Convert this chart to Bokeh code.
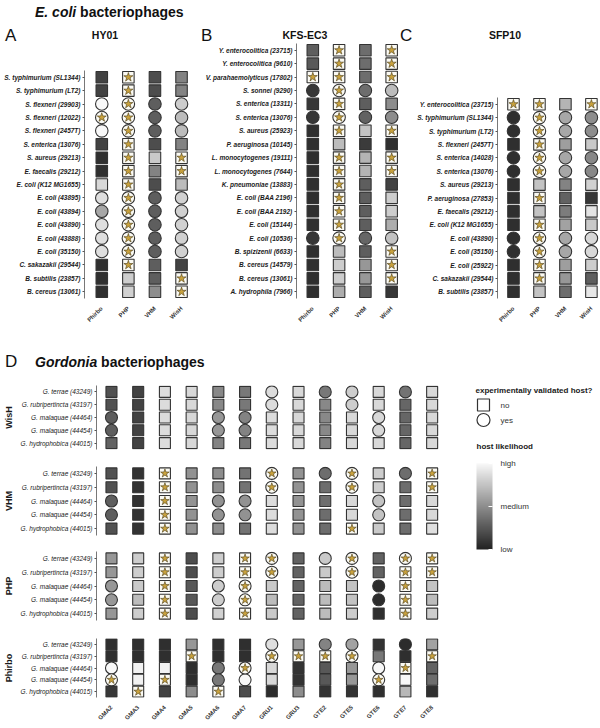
import math
from bokeh.plotting import figure
from bokeh.models import (ColumnDataSource, Range1d, FactorRange, FixedTicker,
                          ColorBar, LinearColorMapper, Div)
from bokeh.layouts import column, row
from bokeh.embed import file_html
from bokeh.resources import INLINE

S = "*"  # top-ranked host prediction (drawn as a star)

TOOLS = ["Phirbo", "PHP", "VHM", "WisH"]

# ---------------- Panel A: HY01 ----------------
HY01_STRAINS = ["S. typhimurium (SL1344)", "S. typhimurium (LT2)", "S. flexneri (29903)",
                "S. flexneri (12022)", "S. flexneri (2457T)", "S. enterica (13076)",
                "S. aureus (29213)", "E. faecalis (29212)", "E. coli (K12 MG1655)",
                "E. coli (43895)", "E. coli (43894)", "E. coli (43890)", "E. coli (43888)",
                "E. coli (35150)", "C. sakazakii (29544)", "B. subtilis (23857)",
                "B. cereus (13061)"]
HY01_HOST = [0, 0, 1, 1, 1, 0, 0, 0, 0, 1, 1, 1, 1, 1, 0, 0, 0]
HY01_PHIRBO = [0.15, 0.15, 1.0, S, 1.0, 0.15, 0.06, 0.06, 0.85, 0.88, 0.62, 0.88, 0.88, 0.88, 0.06, 0.06, 0.06]
HY01_PHP = [S, S, S, S, S, S, S, S, S, S, S, S, S, S, S, 0.8, 0.82]
HY01_VHM = [0.2, 0.2, 0.28, 0.28, 0.28, 0.2, 0.78, 0.45, 0.2, 0.28, 0.28, 0.28, 0.28, 0.28, 0.28, 0.28, 0.5]
HY01_WISH = [0.45, 0.45, 0.8, 0.72, 0.72, 0.45, S, S, 0.72, 0.82, 0.82, 0.82, 0.82, 0.82, 0.15, S, S]

# ---------------- Panel B: KFS-EC3 ----------------
KFS_STRAINS = ["Y. enterocolitica (23715)", "Y. enterocolitica (9610)",
               "V. parahaemolyticus (17802)", "S. sonnei (9290)", "S. enterica (13311)",
               "S. enterica (13076)", "S. aureus (25923)", "P. aeruginosa (10145)",
               "L. monocytogenes (19111)", "L. monocytogenes (7644)", "K. pneumoniae (13883)",
               "E. coli (BAA 2196)", "E. coli (BAA 2192)", "E. coli (15144)", "E. coli (10536)",
               "B. spizizenii (6633)", "B. cereus (14579)", "B. cereus (13061)",
               "A. hydrophila (7966)"]
KFS_HOST = [0, 0, 0, 1, 0, 1, 0, 0, 0, 0, 0, 0, 0, 0, 1, 0, 0, 0, 0]
KFS_PHIRBO = [0.28, 0.26, S, 0.1, 0.1, 0.1, 0.06, 0.06, 0.06, 0.06, 0.06, 0.06, 0.06, 0.06, 0.1, 0.06, 0.06, 0.06, 0.06]
KFS_PHP = [S, S, S, S, S, S, S, 0.72, S, S, S, S, S, S, S, 0.72, 0.8, 0.8, 0.65]
KFS_VHM = [0.35, 0.35, 0.35, 0.35, 0.28, 0.3, 0.75, 0.12, 0.68, 0.68, 0.28, 0.28, 0.28, 0.28, 0.32, 0.28, 0.55, 0.55, 0.28]
KFS_WISH = [S, S, S, 0.72, 0.5, 0.5, S, 0.06, S, S, 0.15, 0.8, 0.8, 0.65, 0.75, S, S, S, 0.1]

# ---------------- Panel C: SFP10 ----------------
SFP_STRAINS = ["Y. enterocolitica (23715)", "S. typhimurium (SL1344)", "S. typhimurium (LT2)",
               "S. flexneri (2457T)", "S. enterica (14028)", "S. enterica (13076)",
               "S. aureus (29213)", "P. aeruginosa (27853)", "E. faecalis (29212)",
               "E. coli (K12 MG1655)", "E. coli (43890)", "E. coli (35150)",
               "E. coli (25922)", "C. sakazakii (29544)", "B. subtilis (23857)"]
SFP_HOST = [0, 1, 1, 0, 1, 1, 0, 0, 0, 0, 1, 1, 0, 0, 0]
SFP_PHIRBO = [S, 0.06, 0.06, 0.06, 0.06, 0.06, 0.06, 0.06, 0.06, 0.06, 0.06, 0.06, 0.06, 0.06, 0.06]
SFP_PHP = [S, S, S, S, S, S, 0.75, S, 0.75, S, S, S, S, S, 0.75]
SFP_VHM = [0.68, 0.62, 0.62, 0.58, 0.62, 0.62, 0.45, 0.3, 0.42, 0.6, 0.62, 0.62, 0.58, 0.55, 0.35]
SFP_WISH = [S, 0.5, 0.5, 0.78, 0.48, 0.48, 0.82, 0.1, 0.9, 0.78, 0.85, 0.85, 0.8, 0.28, 0.92]

# ---------------- Panel D: Gordonia ----------------
G_PHAGES = ["GMA2", "GMA3", "GMA4", "GMA5", "GMA6", "GMA7", "GRU1", "GRU3",
            "GTE2", "GTE5", "GTE6", "GTE7", "GTE8"]
G_STRAINS = ["G. terrae (43249)", "G. rubripertincta (43197)", "G. malaquae (44464)",
             "G. malaquae (44454)", "G. hydrophobica (44015)"]
# validated host (1 = circle) per phage, per strain
G_HOST = [[0, 0, 1, 1, 0], [0, 0, 0, 0, 0], [0, 0, 0, 0, 0], [0, 0, 0, 0, 0],
          [0, 0, 1, 1, 0], [0, 0, 1, 1, 0], [1, 1, 0, 0, 0], [0, 0, 0, 0, 0],
          [1, 0, 0, 0, 0], [1, 1, 0, 0, 0], [0, 0, 1, 1, 0], [1, 0, 0, 0, 0],
          [0, 0, 0, 0, 0]]
G_WISH = [[0.22, 0.22, 0.28, 0.28, 0.3], [0.15, 0.15, 0.15, 0.15, 0.15],
          [0.87, 0.87, 0.87, 0.87, 0.87], [0.85, 0.85, 0.85, 0.85, 0.85],
          [0.48, 0.48, 0.55, 0.55, 0.45], [0.4, 0.4, 0.45, 0.45, 0.4],
          [0.87, 0.87, 0.87, 0.87, 0.87], [0.85, 0.85, 0.85, 0.85, 0.85],
          [0.4, 0.48, 0.48, 0.48, 0.45], [0.8, 0.8, 0.85, 0.85, 0.85],
          [0.85, 0.85, 0.85, 0.85, 0.85], [0.38, 0.32, 0.32, 0.32, 0.32],
          [0.85, 0.85, 0.85, 0.85, 0.85]]
G_VHM = [[0.22, 0.22, 0.28, 0.28, 0.22], [0.08, 0.08, 0.08, 0.08, 0.08],
         [S, S, S, S, S], [0.52, 0.52, 0.52, 0.52, 0.52],
         [0.5, 0.5, 0.52, 0.52, 0.5], [0.38, 0.38, 0.52, 0.52, 0.38],
         [S, S, 0.87, 0.87, 0.87], [0.52, 0.52, 0.52, 0.52, 0.52],
         [0.35, 0.35, 0.35, 0.35, 0.35], [S, S, 0.85, 0.85, S],
         [0.8, 0.8, 0.75, 0.75, 0.78], [0.35, 0.35, 0.35, 0.35, 0.35],
         [S, S, 0.85, 0.85, 0.88]]
G_PHP = [[0.55, 0.55, 0.55, 0.55, 0.55], [0.8, 0.8, 0.78, 0.72, 0.8],
         [S, S, S, S, S], [0.2, 0.2, 0.25, 0.25, 0.2],
         [0.8, 0.8, 0.8, 0.8, 0.82], [S, S, S, S, S],
         [S, S, 0.78, 0.72, 0.78], [0.3, 0.3, 0.3, 0.3, 0.3],
         [0.78, 0.78, 0.72, 0.72, 0.72], [S, S, 0.75, 0.75, 0.8],
         [0.3, 0.3, 0.05, 0.05, 0.06], [S, S, S, S, S],
         [S, S, 0.75, 0.72, 0.8]]
G_PHIRBO = [[0.06, 0.06, 1.0, S, 0.1], [0.06, 0.06, 0.97, 0.97, S],
            [0.06, 0.06, 0.97, S, 0.15], [0.55, S, 0.06, 0.06, 0.5],
            [0.06, 0.06, 0.4, 0.4, S], [0.06, 0.06, S, 1.0, 0.2],
            [0.88, S, 0.85, 0.85, 0.05], [0.55, S, 0.08, 0.08, 0.5],
            [0.45, S, 0.25, 0.25, 0.08], [0.6, S, 0.55, 0.55, 0.08],
            [0.08, 0.4, 1.0, S, 0.06], [0.05, 0.06, S, 1.0, 0.7],
            [0.6, S, 0.3, 0.35, 0.06]]

LIKELIHOOD_TICKS = [0, 0.5, 1]
LIKELIHOOD_LABELS = ["low", "medium", "high"]

# ---------------- styling ----------------
FONT = "Liberation Sans"
OUTLINE = "#333333"
STAR_FILL = "#c9a23e"
STAR_LINE = "#4a3c18"
STAR_BG = "#fbfaf3"
GREYS = ["#%02x%02x%02x" % (g, g, g)
         for g in (int(round(34 + (248 - 34) * k / 255)) for k in range(256))]
MAPPER = LinearColorMapper(palette=GREYS, low=0, high=1)


def add_cells(p, ycats, cols, hostcols, sq=11.5, ci=12.5, st=9.5):
    plain = dict(x=[], y=[], v=[], marker=[], size=[])
    top = dict(x=[], y=[], marker=[], size=[])
    for j, col in enumerate(cols):
        for i, val in enumerate(col):
            h = hostcols[j][i]
            d = top if val == S else plain
            d["x"].append(j)
            d["y"].append(ycats[i])
            d["marker"].append("circle" if h else "square")
            d["size"].append(ci if h else sq)
            if val != S:
                d["v"].append(val)
    p.scatter("x", "y", source=ColumnDataSource(plain), marker="marker", size="size",
              fill_color={"field": "v", "transform": MAPPER},
              line_color=OUTLINE, line_width=1.1)
    src = ColumnDataSource(top)
    p.scatter("x", "y", source=src, marker="marker", size="size", fill_color=STAR_BG,
              line_color=OUTLINE, line_width=1.1)
    p.scatter("x", "y", source=src, marker="star", size=st, fill_color=STAR_FILL,
              line_color=STAR_LINE, line_width=0.6)


def panel(width, height, xr, ycats, xlabels, left, right, top, bottom, show_x,
          label_style="bold italic", ylabel=None):
    p = figure(width=width, height=height, x_range=xr,
               y_range=FactorRange(factors=list(reversed(ycats))),
               output_backend="svg", toolbar_location=None,
               min_border_left=left, min_border_right=right,
               min_border_top=top, min_border_bottom=bottom,
               x_axis_location="below" if show_x else None)
    p.frame_align = False
    p.title.visible = False
    p.xgrid.visible = False
    p.ygrid.visible = False
    p.outline_line_color = None
    p.background_fill_color = "white"
    p.border_fill_color = "white"
    ya = p.yaxis[0]
    ya.axis_line_color = "#555555"
    ya.axis_line_width = 0.8
    ya.major_tick_line_color = "#555555"
    ya.major_tick_out = 2
    ya.major_tick_in = 0
    ya.major_label_standoff = 2
    ya.major_label_text_font = FONT
    ya.major_label_text_font_size = "6.5px"
    ya.major_label_text_font_style = label_style
    ya.major_label_text_color = "#1a1a1a"
    if ylabel:
        ya.axis_label = ylabel
        ya.axis_label_text_font = FONT
        ya.axis_label_text_font_size = "9px"
        ya.axis_label_text_font_style = "bold"
        ya.axis_label_text_color = "#1a1a1a"
        ya.axis_label_standoff = 4
    if show_x:
        xa = p.xaxis[0]
        xa.ticker = FixedTicker(ticks=list(range(len(xlabels))))
        xa.major_label_overrides = {i: t for i, t in enumerate(xlabels)}
        xa.major_label_orientation = math.pi / 4
        xa.axis_line_color = None
        xa.major_tick_line_color = None
        xa.minor_tick_line_color = None
        xa.major_label_standoff = 3
        xa.major_label_text_font = FONT
        xa.major_label_text_font_size = "6px"
        xa.major_label_text_font_style = "bold"
        xa.major_label_text_color = "#333333"
    return p


def header(height, items):
    spans = ""
    for (t, x, y, fs, fw, center) in items:
        tr = "transform:translateX(-50%);" if center else ""
        spans += (f'<span style="position:absolute;left:{x}px;top:{y}px;font-size:{fs}px;'
                  f'font-weight:{fw};line-height:1;white-space:nowrap;{tr}">{t}</span>')
    html = (f'<div style="position:relative;width:600px;height:{height}px;'
            f"font-family:'Liberation Sans',Arial,sans-serif;color:#111;\">{spans}</div>")
    return Div(text=html, width=600, height=height, margin=(0, 0, 0, 0))


# ---------------- top row ----------------
TOP_H = 286
pa = panel(200, TOP_H, Range1d(-0.65, 3.45), HY01_STRAINS, TOOLS, 84, 7, 28, 27, True)
add_cells(pa, HY01_STRAINS, [HY01_PHIRBO, HY01_PHP, HY01_VHM, HY01_WISH], [HY01_HOST] * 4)

pb = panel(208, TOP_H, Range1d(-0.62, 3.45), KFS_STRAINS, TOOLS, 96, 5, 1, 27, True)
add_cells(pb, KFS_STRAINS, [KFS_PHIRBO, KFS_PHP, KFS_VHM, KFS_WISH], [KFS_HOST] * 4)

pc = panel(192, TOP_H, Range1d(-0.615, 3.35), SFP_STRAINS, TOOLS, 89, 0, 55, 27, True)
add_cells(pc, SFP_STRAINS, [SFP_PHIRBO, SFP_PHP, SFP_VHM, SFP_WISH], [SFP_HOST] * 4)

head1 = header(42, [
    ("<i>E. coli</i> bacteriophages", 35, 5, 14, "bold", False),
    ("A", 5, 27, 17, "normal", False),
    ("HY01", 105, 30, 10.5, "bold", True),
    ("B", 201, 27, 17, "normal", False),
    ("KFS-EC3", 305, 30, 10.5, "bold", True),
    ("C", 400, 27, 17, "normal", False),
    ("SFP10", 505, 30, 10.5, "bold", True),
])

head2 = header(49, [
    ("D", 5, 25, 17, "normal", False),
    ("<i>Gordonia</i> bacteriophages", 35, 27, 14, "bold", False),
])

# ---------------- panel D ----------------
DXR = Range1d(-0.56, 12.5)
d_specs = [("WisH", G_WISH, 81, 8, 9, False),
           ("VHM", G_VHM, 85, 8, 8, False),
           ("PHP", G_PHP, 86, 8, 9, False),
           ("Phirbo", G_PHIRBO, 97, 9, 20, True)]
d_figs = []
for name, data, h, t, b, sx in d_specs:
    p = panel(470, h, DXR, G_STRAINS, G_PHAGES, 95, 25, t, b, sx,
              label_style="italic", ylabel=name)
    add_cells(p, G_STRAINS, data, G_HOST, sq=11, ci=12, st=9)
    d_figs.append(p)

# legend: validated host
leg1 = figure(width=130, height=55, x_range=Range1d(-0.5, 0.5),
              y_range=FactorRange(factors=["yes", "no"]),
              output_backend="svg", toolbar_location=None,
              min_border_left=5, min_border_right=109, min_border_top=20, min_border_bottom=5,
              x_axis_location=None, y_axis_location="right",
              title="experimentally validated host?")
leg1.frame_align = False
leg1.title.text_font = FONT
leg1.title.text_font_size = "8px"
leg1.title.text_font_style = "bold"
leg1.title.text_color = "#1a1a1a"
leg1.title.standoff = 5
leg1.title.offset = 0
leg1.xgrid.visible = False
leg1.ygrid.visible = False
leg1.outline_line_color = None
leg1.yaxis.axis_line_color = None
leg1.yaxis.major_tick_line_color = None
leg1.yaxis.major_label_standoff = 3
leg1.yaxis.major_label_text_font = FONT
leg1.yaxis.major_label_text_font_size = "8px"
leg1.yaxis.major_label_text_color = "#333333"
leg1.scatter(x=[0, 0], y=["no", "yes"], marker=["square", "circle"], size=[12, 13],
             fill_color="white", line_color=OUTLINE, line_width=1.2)

# legend: colour bar
leg2 = figure(width=130, height=140, x_range=Range1d(0, 1), y_range=Range1d(0, 1),
              output_backend="svg", toolbar_location=None,
              min_border_left=6, min_border_right=0, min_border_top=20, min_border_bottom=0,
              x_axis_location=None, y_axis_location=None, title="host likelihood")
leg2.frame_align = False
leg2.title.text_font = FONT
leg2.title.text_font_size = "8px"
leg2.title.text_font_style = "bold"
leg2.title.text_color = "#1a1a1a"
leg2.title.standoff = 3
leg2.title.offset = 0
leg2.xgrid.visible = False
leg2.ygrid.visible = False
leg2.outline_line_color = None
cb = ColorBar(color_mapper=MAPPER, orientation="vertical", width=16, height=86,
              location=(0, 23), padding=0,
              ticker=FixedTicker(ticks=LIKELIHOOD_TICKS),
              major_label_overrides={t: l for t, l in zip(LIKELIHOOD_TICKS, LIKELIHOOD_LABELS)},
              major_label_text_font=FONT, major_label_text_font_size="8px",
              major_label_text_color="#333333", label_standoff=8,
              major_tick_line_color="white", major_tick_in=4, major_tick_out=0,
              bar_line_color=None, background_fill_color=None, border_line_color=None)
leg2.add_layout(cb)

layout = column(head1, row(pa, pb, pc), head2,
                row(column(*d_figs), column(leg1, leg2)))

open("out.html", "w").write(file_html(layout, INLINE))
